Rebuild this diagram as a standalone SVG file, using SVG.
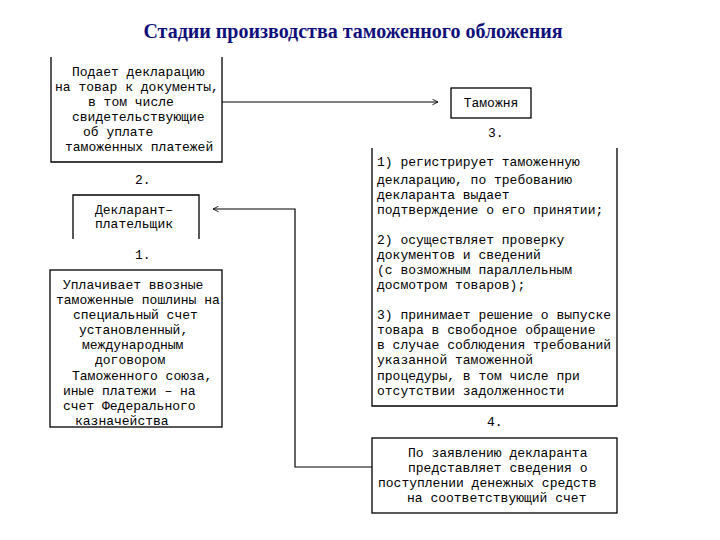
<svg xmlns="http://www.w3.org/2000/svg" width="720" height="540" viewBox="0 0 720 540">
<style>
.t{font-family:"Liberation Mono","Courier New",monospace;font-size:13px;fill:#000}
.b{fill:none;stroke:#000;stroke-width:1.3}
.c{fill:none;stroke:#000;stroke-width:1.2}
.title{font-family:"Liberation Serif","Times New Roman",serif;font-size:20px;font-weight:bold;fill:#10107a}
</style>
<defs>
<marker id="ah" viewBox="0 0 10 10" refX="9" refY="5" markerWidth="7" markerHeight="7" markerUnits="userSpaceOnUse" orient="auto">
<path d="M1,1 L9,5 L1,9" fill="none" stroke="#000" stroke-width="1.2"/>
</marker>
</defs>
<rect width="720" height="540" fill="#fff"/>
<text class="title" x="353" y="38" text-anchor="middle">Стадии производства таможенного обложения</text>

<g id="connectors">
<line class="c" x1="222" y1="102" x2="438" y2="102" marker-end="url(#ah)"/>
<polyline class="c" points="372,467 295,467 295,209 213,209" marker-end="url(#ah)"/>
</g>

<g id="node-podaet">
<path class="b" d="M51,57 V162 H222 V57"/>
<text class="t" x="72" y="76">Подает декларацию</text>
<text class="t" x="55" y="91">на товар к документы,</text>
<text class="t" x="88" y="106">в том числе</text>
<text class="t" x="72" y="121">свидетельствующие</text>
<text class="t" x="83" y="136">об уплате</text>
<text class="t" x="65" y="151">таможенных платежей</text>
</g>

<g id="node-tamozhnya">
<rect class="b" x="451" y="88" width="80" height="30"/>
<text class="t" x="491" y="107" text-anchor="middle">Таможня</text>
<text class="t" x="488" y="137">3.</text>
</g>

<g id="node-declarant">
<text class="t" x="135" y="184">2.</text>
<path class="b" d="M73,239 V195 H199 V239"/>
<text class="t" x="95" y="214">Декларант–</text>
<text class="t" x="95" y="228">плательщик</text>
<text class="t" x="135" y="259">1.</text>
</g>

<g id="node-uplachivaet">
<rect class="b" x="50" y="270" width="172" height="157"/>
<text class="t" x="63" y="289">Уплачивает ввозные</text>
<text class="t" x="56" y="304">таможенные пошлины на</text>
<text class="t" x="73" y="319">специальный счет</text>
<text class="t" x="79" y="334">установленный,</text>
<text class="t" x="82" y="349">международным</text>
<text class="t" x="95" y="364">договором</text>
<text class="t" x="72" y="380">Таможенного союза,</text>
<text class="t" x="63" y="395">иные платежи – на</text>
<text class="t" x="63" y="410">счет Федерального</text>
<text class="t" x="75" y="425">казначейства</text>
</g>

<g id="node-functions">
<path class="b" d="M372,148 V406 H617 V148"/>
<text class="t" x="377" y="166">1) регистрирует таможенную</text>
<text class="t" x="377" y="184">декларацию, по требованию</text>
<text class="t" x="377" y="199">декларанта выдает</text>
<text class="t" x="377" y="214">подтверждение о его принятии;</text>
<text class="t" x="377" y="244">2) осуществляет проверку</text>
<text class="t" x="377" y="259">документов и сведений</text>
<text class="t" x="377" y="274">(с возможным параллельным</text>
<text class="t" x="377" y="289">досмотром товаров);</text>
<text class="t" x="377" y="319">3) принимает решение о выпуске</text>
<text class="t" x="377" y="334">товара в свободное обращение</text>
<text class="t" x="377" y="349">в случае соблюдения требований</text>
<text class="t" x="377" y="364">указанной таможенной</text>
<text class="t" x="377" y="380">процедуры, в том числе при</text>
<text class="t" x="377" y="395">отсутствии задолженности</text>
<text class="t" x="487" y="426">4.</text>
</g>

<g id="node-svedeniya">
<rect class="b" x="372" y="438" width="245" height="75"/>
<text class="t" x="408" y="457">По заявлению декларанта</text>
<text class="t" x="408" y="472">представляет сведения о</text>
<text class="t" x="378" y="487">поступлении денежных средств</text>
<text class="t" x="407" y="502">на соответствующий счет</text>
</g>
</svg>
